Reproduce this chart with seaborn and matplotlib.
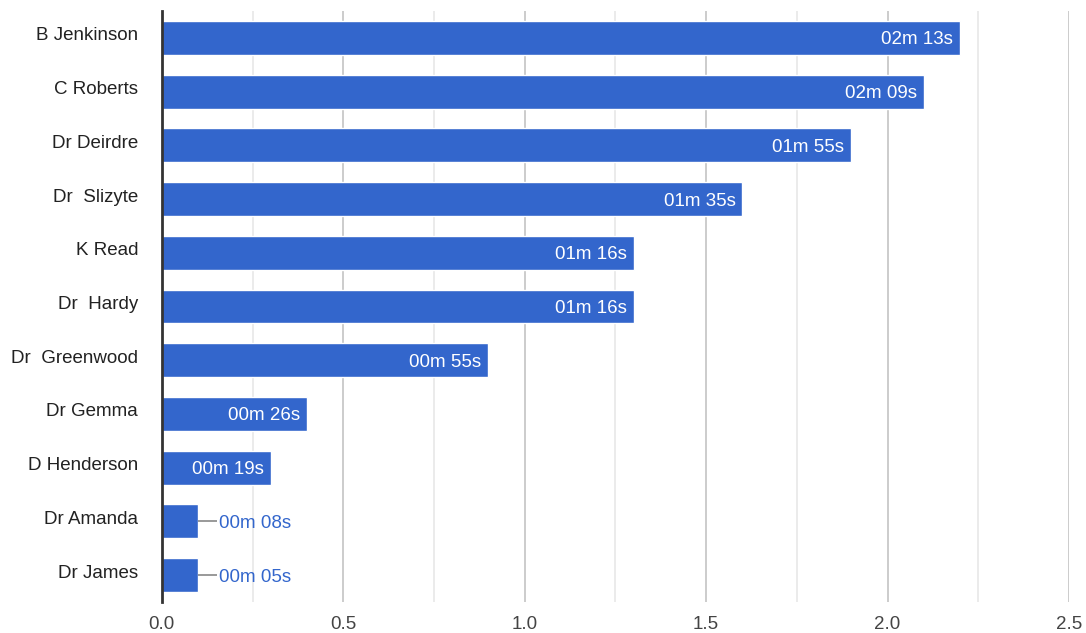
import matplotlib
matplotlib.use("Agg")
import matplotlib.pyplot as plt
import matplotlib.transforms as mtransforms
from matplotlib.ticker import MultipleLocator, FormatStrFormatter
import seaborn as sns
import pandas as pd

# Call durations per clinician
names = ["B Jenkinson", "C Roberts", "Dr Deirdre", "Dr  Slizyte", "K Read",
         "Dr  Hardy", "Dr  Greenwood", "Dr Gemma", "D Henderson", "Dr Amanda",
         "Dr James"]
minutes_part = [2, 2, 1, 1, 1, 1, 0, 0, 0, 0, 0]
seconds_part = [13, 9, 55, 35, 16, 16, 55, 26, 19, 8, 5]

labels = [f"{m:02d}m {s:02d}s" for m, s in zip(minutes_part, seconds_part)]
# bar length: duration in minutes, rounded to one decimal
minutes = [round(m + s / 60, 1) for m, s in zip(minutes_part, seconds_part)]

df = pd.DataFrame({"name": names, "minutes": minutes, "label": labels})

sns.set_theme(style="white")
plt.rcParams["font.family"] = ["Liberation Sans", "DejaVu Sans"]

BLUE = "#3366cc"
fig = plt.figure(figsize=(10.86, 6.33), dpi=100)
ax = fig.add_axes([0.149, 0.049, 0.8353, 0.9336])

sns.barplot(data=df, x="minutes", y="name", orient="h", color=BLUE,
            saturation=1, width=0.63, ax=ax, zorder=3)

ax.set_xlim(0, 2.5)
ax.set_ylim(len(names) - 0.5, -0.5)
ax.xaxis.set_major_locator(MultipleLocator(0.5))
ax.xaxis.set_minor_locator(MultipleLocator(0.25))
ax.xaxis.set_major_formatter(FormatStrFormatter("%.1f"))
ax.grid(axis="x", which="major", color="#cccccc", linewidth=1.4, zorder=0)
ax.grid(axis="x", which="minor", color="#ebebeb", linewidth=1.4, zorder=0)
ax.set_axisbelow(True)

for side in ["top", "right", "bottom"]:
    ax.spines[side].set_visible(False)
ax.spines["left"].set_color("#333333")
ax.spines["left"].set_linewidth(2)
ax.spines["left"].set_zorder(5)

ax.tick_params(axis="x", which="both", length=0, pad=10, labelsize=13.5,
               labelcolor="#444444")
ax.tick_params(axis="y", length=0, pad=17, labelsize=13.5, labelcolor="#222222")
# category names sit slightly above the bar centre
lift = mtransforms.ScaledTranslation(0, 4 / 100, fig.dpi_scale_trans)
for lbl in ax.get_yticklabels():
    lbl.set_verticalalignment("center_baseline")
    lbl.set_transform(lbl.get_transform() + lift)
ax.set_xlabel("")
ax.set_ylabel("")

# value annotations: inside the bar when it fits, otherwise outside with a leader
fig.canvas.draw()
renderer = fig.canvas.get_renderer()
px_per_unit = ax.transData.transform((1, 0))[0] - ax.transData.transform((0, 0))[0]
for i, (val, lab) in enumerate(zip(minutes, labels)):
    t = ax.text(val, i, lab, fontsize=13.5, color="white", ha="right",
                va="center_baseline", zorder=6)
    w = t.get_window_extent(renderer).width
    if w + 14 < val * px_per_unit:
        t.set_x(val - 7 / px_per_unit)
    else:
        t.remove()
        ax.plot([val, val + 19 / px_per_unit], [i, i], color="#999999",
                linewidth=1.4, zorder=4, solid_capstyle="butt")
        ax.text(val + 21 / px_per_unit, i, lab, fontsize=13.5, color=BLUE,
                ha="left", va="center_baseline", zorder=6)

fig.savefig("out.png", dpi=100, facecolor="white")
